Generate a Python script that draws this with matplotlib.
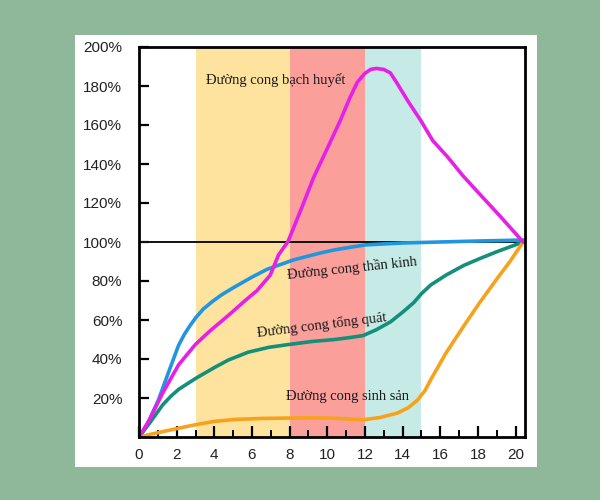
#!/usr/bin/env python3
import matplotlib
matplotlib.use('Agg')
import matplotlib.pyplot as plt
from matplotlib.patches import Rectangle
from matplotlib.ticker import MultipleLocator, FuncFormatter

# age (years) and growth relative to adult size (%)
lymph_x = [0, 0.55, 1.26, 2.1, 3.0, 3.78, 4.4, 5.0, 5.64, 6.26, 6.97, 7.41, 7.9,
           8.2, 8.7, 9.27, 10.0, 10.7, 11.2, 11.6, 12.0, 12.3, 12.6, 13.0, 13.35, 13.7,
           14.3, 14.95, 15.6, 16.4, 17.2, 18.1, 19.2, 20.4]
lymph_y = [0, 8.8, 22.6, 37, 47.5, 54.5, 59.5, 64.5, 70, 75, 83, 93.4, 100,
           107, 119, 133, 148, 162.5, 174, 182, 186.5, 188.5, 189, 188.5, 186.7, 181.5,
           172, 162.5, 152, 143.5, 134, 124.5, 113, 100]

neural_x = [0, 0.37, 0.7, 1.03, 1.56, 2.1, 2.4, 2.7, 3.0, 3.4, 3.9, 4.4, 5.0, 6.0,
            6.8, 8.2, 9.6, 10.4, 12.0, 14.0, 16.0, 18.0, 20.4]
neural_y = [0, 5, 12, 19, 33, 47, 52.5, 57, 61, 65.5, 69.5, 73, 76.5, 82,
            86, 90.8, 94.3, 96, 98.5, 99.5, 100, 100.5, 101]

general_x = [0, 0.55, 1.0, 1.26, 1.7, 2.1, 3.0, 4.0, 4.75, 5.8, 6.9, 8.0, 9.2, 10.4, 11.2,
             11.9, 12.6, 13.35, 14.0, 14.6, 15.0, 15.5, 16.3, 17.25, 18.1, 19.0, 20.4]
general_y = [0, 7, 13, 16.5, 21, 24.4, 30, 35.6, 39.5, 43.5, 46, 47.5, 49, 50, 51,
             52, 55, 59, 64, 69, 73.5, 78, 83, 88, 91.5, 95, 100]

repro_x = [0, 0.9, 2.0, 2.95, 4.0, 5.1, 6.5, 7.77, 9.0, 10.2, 11.0, 11.9, 12.8, 13.7,
           14.3, 14.8, 15.2, 15.5, 16.3, 17.25, 18.1, 19.0, 19.7, 20.4]
repro_y = [0, 2, 4.3, 6.2, 8, 9, 9.5, 9.7, 9.8, 9.7, 9.3, 8.8, 10, 12.2,
           15, 19, 24, 29.5, 43, 57, 69, 81, 90, 100]

# age bands: (start, end)
bands = [(3, 8), (8, 12), (12, 15)]
band_colors = ['#fde39e', '#fb9f9b', '#c6ebe6']

labels = ['Đường cong bạch huyết', 'Đường cong thần kinh',
          'Đường cong tổng quát', 'Đường cong sinh sản']

fig = plt.figure(figsize=(6, 5), dpi=100, facecolor='#8fb89b')
# white card behind the chart
card = Rectangle((0.125, 0.066), 0.77, 0.864, transform=fig.transFigure,
                 facecolor='white', edgecolor='none', zorder=-10)
fig.add_artist(card)

ax = fig.add_axes([0.2317, 0.126, 0.6433, 0.78])
ax.set_facecolor('white')

for (a, b), c in zip(bands, band_colors):
    ax.axvspan(a, b, color=c, lw=0, zorder=1)

ax.axhline(100, color='#111111', lw=1.4, zorder=2)

ax.plot(neural_x, neural_y, color='#2196df', lw=2.6, solid_capstyle='round',
        solid_joinstyle='round', zorder=3)
ax.plot(general_x, general_y, color='#138f7a', lw=2.6, solid_capstyle='round',
        solid_joinstyle='round', zorder=3)
ax.plot(repro_x, repro_y, color='#f6a21d', lw=2.6, solid_capstyle='round',
        solid_joinstyle='round', zorder=3)
ax.plot(lymph_x, lymph_y, color='#e620e6', lw=2.6, solid_capstyle='round',
        solid_joinstyle='round', zorder=4)

serif = ['Liberation Serif', 'DejaVu Serif']
tc = '#1a1a1a'
ax.text(7.25, 183, labels[0], family=serif, fontsize=10.5, color=tc, ha='center', va='center', zorder=5)
ax.text(11.3, 86.5, labels[1], family=serif, fontsize=10.5, color=tc, ha='center', va='center',
        rotation=6, zorder=5)
ax.text(9.7, 57.5, labels[2], family=serif, fontsize=10.5, color=tc, ha='center', va='center',
        rotation=7, zorder=5)
ax.text(11.05, 20.7, labels[3], family=serif, fontsize=10.5, color=tc, ha='center', va='center', zorder=5)

ax.set_xlim(0, 20.5)
ax.set_ylim(0, 200)
ax.xaxis.set_major_locator(MultipleLocator(2))
ax.xaxis.set_minor_locator(MultipleLocator(1))
ax.set_yticks(range(20, 201, 20))
ax.yaxis.set_major_formatter(FuncFormatter(lambda v, p: f'{int(v)}%'))

for s in ax.spines.values():
    s.set_linewidth(2)
    s.set_color('black')
    s.set_zorder(6)

sans = 'Liberation Sans'
ax.tick_params(axis='x', which='major', direction='in', length=8, width=1.6, pad=8,
               labelsize=11, labelcolor='#222222')
ax.tick_params(axis='x', which='minor', direction='in', length=5, width=1.4)
ax.tick_params(axis='y', which='major', direction='in', length=7, width=1.6, pad=12,
               labelsize=11, labelcolor='#222222')
for t in ax.get_xticklabels() + ax.get_yticklabels():
    t.set_family(sans)

fig.savefig('out.png', dpi=100, facecolor=fig.get_facecolor())
